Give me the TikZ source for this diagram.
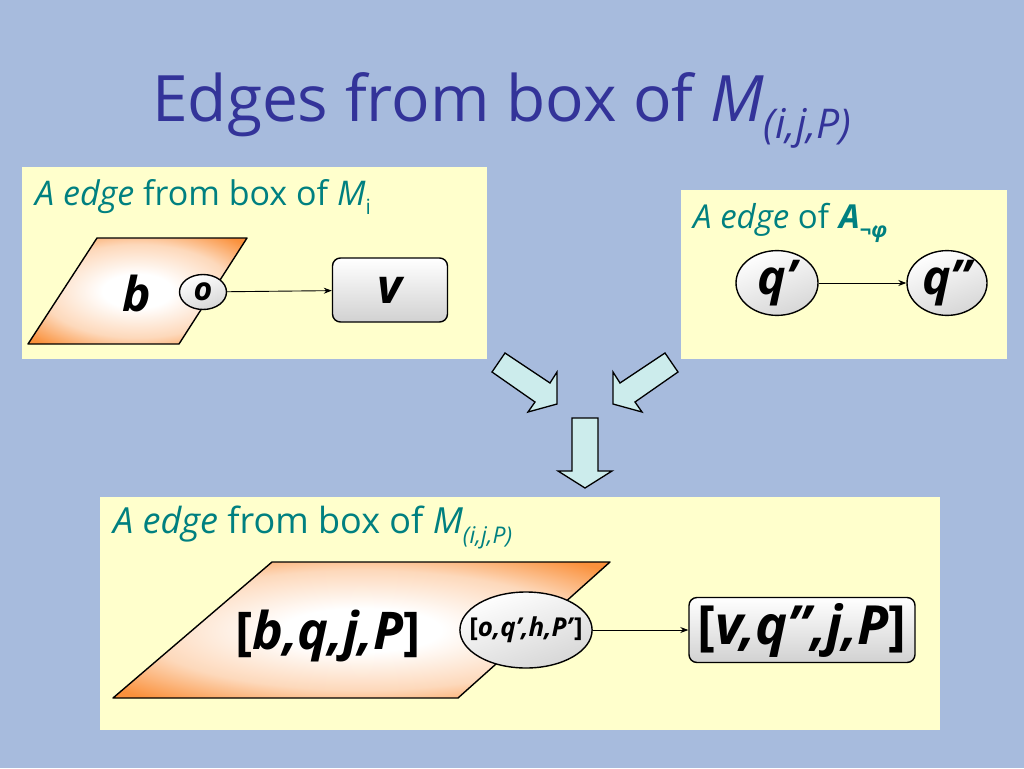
\documentclass[tikz,border=0pt]{standalone}
\usepackage{fontspec}
\setmainfont{Open Sans}
\usetikzlibrary{arrows.meta,shapes.geometric}
\definecolor{slideblue}{RGB}{167,187,221}
\definecolor{titleblue}{RGB}{51,51,153}
\definecolor{headteal}{RGB}{0,128,128}
\definecolor{paneyellow}{RGB}{255,255,204}
\definecolor{boxorange}{RGB}{250,145,60}
\definecolor{arrowcyan}{RGB}{204,236,236}
\pgfdeclareradialshading{parshade}{\pgfpoint{0bp}{0bp}}{color(0bp)=(white); color(8bp)=(white); color(22bp)=(boxorange!35!white); color(33bp)=(boxorange); color(50bp)=(boxorange)}
\newcommand{\lowtxt}[2]{\raisebox{-.28em}{\fontsize{#1}{#1}\selectfont #2}}
\tikzset{
  pane/.style={fill=paneyellow},
  headtxt/.style={anchor=base west,inner sep=0pt,text=headteal},
  parbox/.style={draw,line width=1.4pt,line join=round,shading=parshade},
  stateell/.style={ellipse,draw,line width=1.4pt,inner sep=0pt,top color=white,bottom color=black!16,shading angle=20},
  vertbox/.style={draw,line width=1.4pt,rounded corners=8pt,inner sep=0pt,top color=white,bottom color=black!18},
  blockarr/.style={draw,line width=1.3pt,fill=arrowcyan,line join=miter},
  edgearr/.style={-{Stealth[length=8pt,width=6pt]},line width=0.9pt}
}
\begin{document}
\begin{tikzpicture}[x=1pt,y=-1pt]
  % slide background and title
  \fill[slideblue] (0,0) rectangle (1024,768);
  \node[anchor=base west,inner sep=0pt,text=titleblue,font=\fontsize{64}{70}\selectfont] (T) at (152,121)
    {Edges from box of \textit{M}\lowtxt{41}{\itshape(i,j,P)}};
  % the three panes
  \path[pane] (22,167) rectangle (487,359);
  \path[pane] (681,190) rectangle (1007,359);
  \path[pane] (100,497) rectangle (940,730);
  \node[headtxt,font=\fontsize{34}{38}\selectfont] (H1) at (35,205)
    {\textit{A edge} from box of \textit{M}\lowtxt{21}{i}};
  \node[headtxt,font=\fontsize{33}{36}\selectfont] (H2) at (693,228)
    {\textit{A edge} of \textbf{\textit{A}}\lowtxt{21}{\bfseries\itshape ¬φ}};
  \node[headtxt,font=\fontsize{36}{40}\selectfont] (H3) at (113,533)
    {\textit{A edge} from box of \textit{M}\lowtxt{23}{\itshape(i,j,P)}};
  % edge from box of M_i
  \path[parbox] (28,344) -- (97,238) -- (247,238) -- (179,344) -- cycle;
  \node[font=\fontsize{48}{48}\selectfont\bfseries\itshape] (b) at (137,293) {b};
  \node[stateell,minimum width=47pt,minimum height=35pt,font=\fontsize{32}{32}\selectfont\bfseries\itshape] (o) at (203,292) {o};
  \node[vertbox,minimum width=115pt,minimum height=64pt,font=\fontsize{48}{48}\selectfont\bfseries\itshape] (v) at (390,290) {v};
  \draw[edgearr] (o) -- (v);
  % edge of the automaton
  \node[stateell,minimum width=82pt,minimum height=60pt,font=\fontsize{48}{48}\selectfont\bfseries\itshape] (qa) at (777,283) {q’};
  \node[stateell,minimum width=80pt,minimum height=60pt,font=\fontsize{48}{48}\selectfont\bfseries\itshape] (qb) at (947,283) {q”};
  \draw[edgearr] (qa) -- (qb);
  % block arrows
  \foreach \sx/\dx in {1/0,-1/1170}{
    \path[blockarr,xshift=\dx pt,xscale=\sx] (492,372) -- (505,353) -- (550,383) -- (557,372) -- (557,404) -- (528,412) -- (535,402) -- cycle;
  }
  \path[blockarr] (572,418) -- (598,418) -- (598,471) -- (612,471) -- (585,488) -- (558,471) -- (572,471) -- cycle;
  % edge from box of M_(i,j,P)
  \path[parbox] (113,698) -- (272,562) -- (610,562) -- (458,698) -- cycle;
  \node[font=\fontsize{52}{52}\selectfont\bfseries] (bq) at (328,636) {\textup{[}\textit{b,q,j,P}\textup{]}};
  \node[stateell,inner xsep=-10pt,minimum width=130pt,minimum height=76pt,font=\fontsize{26}{26}\selectfont\bfseries] (oq) at (526,630) {\textup{[}\textit{o,q’,h,P’}\textup{]}};
  \node[vertbox,minimum width=226pt,minimum height=65pt,font=\fontsize{54}{54}\selectfont\bfseries] (vq) at (802,630) {\textup{[}\textit{v,q”,j,P}\textup{]}};
  \draw[edgearr] (oq) -- (vq);
\end{tikzpicture}
\end{document}
